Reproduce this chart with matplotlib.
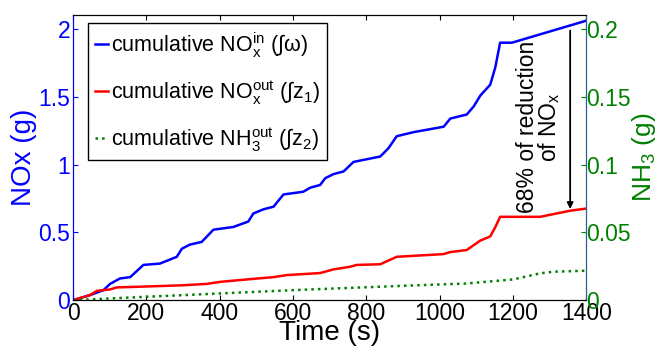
import matplotlib.pyplot as plt

plt.rcParams['font.family'] = ['Liberation Sans', 'DejaVu Sans']
plt.rcParams['mathtext.fontset'] = 'custom'
plt.rcParams['mathtext.rm'] = 'Liberation Sans'
plt.rcParams['mathtext.it'] = 'Liberation Sans'
plt.rcParams['mathtext.bf'] = 'Liberation Sans:bold'

# cumulative NOx in (g)
t_in = [0, 46, 83, 101, 128, 156, 192, 237, 283, 297, 319, 351, 383, 437, 478, 492, 519, 547,
        574, 628, 647, 674, 688, 710, 738, 765, 783, 838, 860, 883, 929, 1011, 1029, 1074,
        1093, 1111, 1138, 1152, 1165, 1197, 1397]
nox_in = [0, 0.037, 0.074, 0.12, 0.16, 0.17, 0.26, 0.27, 0.32, 0.38, 0.41, 0.43, 0.52, 0.54,
          0.58, 0.64, 0.67, 0.69, 0.78, 0.80, 0.83, 0.85, 0.90, 0.93, 0.95, 1.02, 1.03, 1.06,
          1.12, 1.21, 1.24, 1.28, 1.34, 1.37, 1.43, 1.51, 1.59, 1.72, 1.90, 1.90, 2.06]

# cumulative NOx out (g)
t_out = [0, 46, 65, 101, 119, 192, 301, 365, 401, 483, 547, 583, 674, 710, 755, 774, 838,
         883, 1011, 1029, 1074, 1111, 1138, 1152, 1165, 1274, 1356, 1397]
nox_out = [0, 0.037, 0.069, 0.079, 0.094, 0.10, 0.11, 0.12, 0.135, 0.155, 0.17, 0.185, 0.20,
           0.227, 0.246, 0.26, 0.265, 0.32, 0.34, 0.355, 0.37, 0.44, 0.47, 0.54, 0.615,
           0.615, 0.66, 0.675]

# cumulative NH3 out (g), right axis
t_nh3 = [0, 201, 601, 892, 1074, 1201, 1274, 1311, 1397]
nh3_out = [0, 0.0025, 0.0074, 0.0105, 0.0123, 0.0153, 0.0198, 0.021, 0.0217]

fig, ax = plt.subplots(figsize=(6.58, 3.47), dpi=100)
fig.subplots_adjust(left=0.111, right=0.891, bottom=0.135, top=0.957)
ax2 = ax.twinx()

l1, = ax.plot(t_in, nox_in, color='blue', lw=1.8, label='cumulative NO$_x^{in}$ (∫ω)')
l2, = ax.plot(t_out, nox_out, color='red', lw=1.8, label='cumulative NO$_x^{out}$ (∫z$_1$)')
l3, = ax2.plot(t_nh3, nh3_out, color='green', lw=1.8, ls=':', label='cumulative NH$_3^{out}$ (∫z$_2$)')

ax.set_xlim(0, 1400)
ax.set_ylim(0, 2.105)
ax2.set_ylim(0, 0.2105)
ax.set_xticks(range(0, 1401, 200))
ax.set_yticks([0, 0.5, 1, 1.5, 2])
ax.set_yticklabels(['0', '0.5', '1', '1.5', '2'])
ax2.set_yticks([0, 0.05, 0.1, 0.15, 0.2])
ax2.set_yticklabels(['0', '0.05', '0.1', '0.15', '0.2'])

ax.tick_params(axis='x', direction='in', labelsize=16.5, pad=1, top=True)
ax.tick_params(axis='y', direction='in', labelsize=16.5, colors='blue', pad=2)
ax2.tick_params(axis='y', direction='in', labelsize=16.5, colors='green', pad=0)
ax.spines['left'].set_color('blue')
ax2.spines['left'].set_color('blue')
ax2.spines['right'].set_color('#2a6590')

ax.set_xlabel('Time (s)', fontsize=20, labelpad=-3)
ax.set_ylabel('NOx (g)', fontsize=20, color='blue', labelpad=1)
ax2.set_ylabel('NH$_3$ (g)', fontsize=19, color='green', labelpad=-1)

ax.annotate('', xy=(1356, 0.652), xytext=(1356, 2.01),
            arrowprops=dict(arrowstyle='-|>', color='black', lw=1.3, mutation_scale=9))
ax.text(1272, 1.28, '68% of reduction\nof NO$_x$', rotation=90, ha='center', va='center',
        fontsize=16.5, linespacing=0.85)

leg = ax2.legend(handles=[l1, l2, l3], loc='upper left', bbox_to_anchor=(0.03, 0.97),
                 fontsize=15.5, handlelength=0.6, handletextpad=0.15, borderpad=0.3,
                 labelspacing=0.85, fancybox=False, framealpha=1, edgecolor='black',
                 borderaxespad=0)
leg.get_frame().set_linewidth(1.0)

plt.savefig('out.png')
